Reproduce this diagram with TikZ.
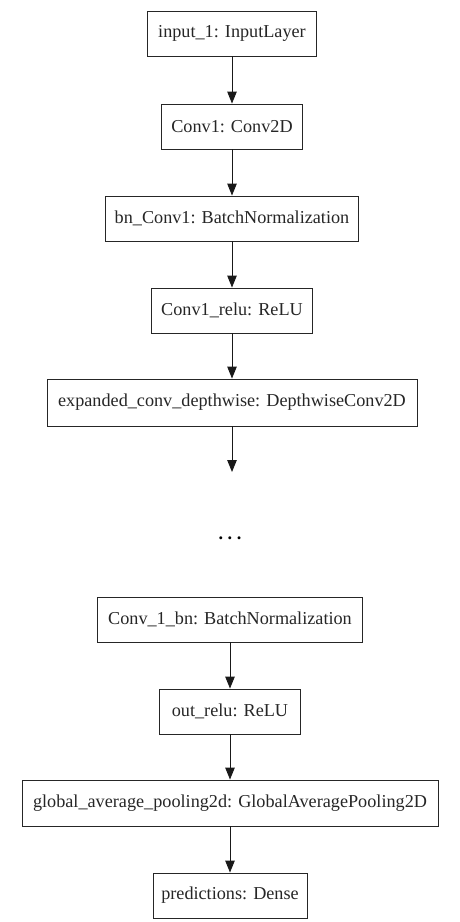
\documentclass[tikz,border=0pt]{standalone}
\usepackage{fontspec}
\setmainfont{Liberation Serif}
\usetikzlibrary{arrows.meta}
\begin{document}
\begin{tikzpicture}[x=1pt,y=-1pt,
  layer/.style={draw=black!85, line width=0.9pt, inner sep=0pt, minimum height=45pt, font=\fontsize{18.2}{20}\selectfont, text=black!85},
  conn/.style={line width=1pt, black!90, -{Triangle[length=12pt,width=9.5pt]}}]
\useasboundingbox (0,0) rectangle (460,922);
\node[layer, minimum width=169pt] (n1) at (232,33.5) {input\_1: InputLayer};
\node[layer, minimum width=141pt] (n2) at (232,126.5) {Conv1: Conv2D};
\node[layer, minimum width=253pt] (n3) at (232,218.5) {bn\_Conv1: BatchNormalization};
\node[layer, minimum width=161pt] (n4) at (232,310.5) {Conv1\_relu: ReLU};
\node[layer, minimum width=370pt, minimum height=47pt] (n5) at (232,402.5) {expanded\_conv\_depthwise: DepthwiseConv2D};
\coordinate (e5) at (232,472);
\node[anchor=base, inner sep=0pt, font=\fontsize{18.2}{20}\selectfont\bfseries] (dots) at (230,539) {.\kern4.5pt.\kern4.5pt.};
\node[layer, minimum width=265pt] (n6) at (230,619.5) {Conv\_1\_bn: BatchNormalization};
\node[layer, minimum width=141pt] (n7) at (230,711.5) {out\_relu: ReLU};
\node[layer, minimum width=416pt, minimum height=46pt] (n8) at (230,803) {global\_average\_pooling2d: GlobalAveragePooling2D};
\node[layer, minimum width=154pt] (n9) at (230,895.5) {predictions: Dense};
\draw[conn] (n1) -- (n2);
\draw[conn] (n2) -- (n3);
\draw[conn] (n3) -- (n4);
\draw[conn] (n4) -- (n5);
\draw[conn] (n5) -- (e5);
\draw[conn] (n6) -- (n7);
\draw[conn] (n7) -- (n8);
\draw[conn] (n8) -- (n9);
\end{tikzpicture}
\end{document}
